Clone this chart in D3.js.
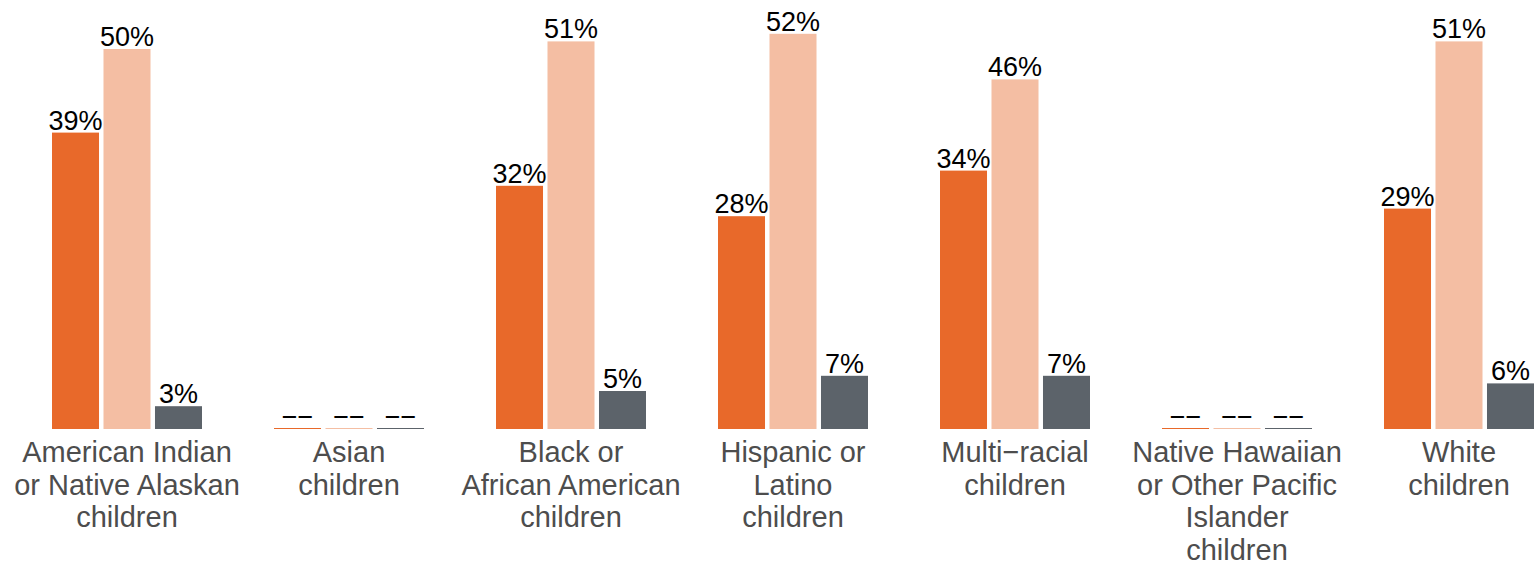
<!DOCTYPE html>
<html>
  <head>
    <meta charset="utf-8">
    <script src="https://d3js.org/d3.v7.min.js"></script>
    <style>
      body { margin: 0; background: #fff; }
      text { font-family: "Liberation Sans", Arial, sans-serif; }
    </style>
  </head>
  <body>
<script type="text/javascript">
var width = 1540;
var height = 563;

// groups along the x axis
var categories = [
  'American Indian\nor Native Alaskan\nchildren',
  'Asian\nchildren',
  'Black or\nAfrican American\nchildren',
  'Hispanic or\nLatino\nchildren',
  'Multi\u2212racial\nchildren',
  'Native Hawaiian\nor Other Pacific\nIslander\nchildren',
  'White\nchildren'
];
var series = ['s1', 's2', 's3'];
// percent values, null = suppressed (shown as --)
var s1Values = [39, null, 32, 28, 34, null, 29];
var s2Values = [50, null, 51, 52, 46, null, 51];
var s3Values = [3, null, 5, 7, 7, null, 6];
var colors = ['#e8692a', '#f4bea3', '#5c636a'];

var svg = d3.select('body').append('svg')
      .attr('width', width)
      .attr('height', height);

var x = d3.scaleBand()
      .domain(categories)
      .range([16, 16 + 7 * 222])
      .padding(0);

var xInner = d3.scaleBand()
      .domain(series)
      .range([36, 186])
      .paddingInner(0.087);

var y = d3.scaleLinear()
      .domain([0, 50])
      .range([429, 49]);

var rows = [];
categories.forEach(function(c, i) {
  [s1Values, s2Values, s3Values].forEach(function(vals, j) {
    rows.push({cat: c, s: series[j], v: vals[i], color: colors[j]});
  });
});

var g = svg.append('g');

g.selectAll('rect')
    .data(rows)
    .enter()
    .append('rect')
    .attr('x', function(d) { return x(d.cat) + xInner(d.s); })
    .attr('width', xInner.bandwidth())
    .attr('y', function(d) { return d.v == null ? y(0) - 1 : y(d.v); })
    .attr('height', function(d) { return d.v == null ? 1 : y(0) - y(d.v); })
    .attr('fill', function(d) { return d.color; });

g.selectAll('text.lbl')
    .data(rows)
    .enter()
    .append('text')
    .attr('class', 'lbl')
    .attr('x', function(d) { return x(d.cat) + xInner(d.s) + xInner.bandwidth() / 2; })
    .attr('y', function(d) { return (d.v == null ? y(0) : y(d.v)) - 3; })
    .attr('text-anchor', 'middle')
    .attr('font-size', '27px')
    .attr('fill', '#000')
    .text(function(d) { return d.v == null ? '\u2212\u2212' : d.v + '%'; });

// x axis labels (no axis line or ticks)
var xAxis = svg.append('g');
categories.forEach(function(c) {
  var cx = x(c) + x.bandwidth() / 2;
  var t = xAxis.append('text')
      .attr('x', cx)
      .attr('y', 462)
      .attr('text-anchor', 'middle')
      .attr('font-size', '29px')
      .attr('fill', '#4d4d4d');
  c.split('\n').forEach(function(line, k) {
    t.append('tspan')
      .attr('x', cx)
      .attr('dy', k == 0 ? 0 : 32.5)
      .text(line);
  });
});
</script>
  </body>
</html>
